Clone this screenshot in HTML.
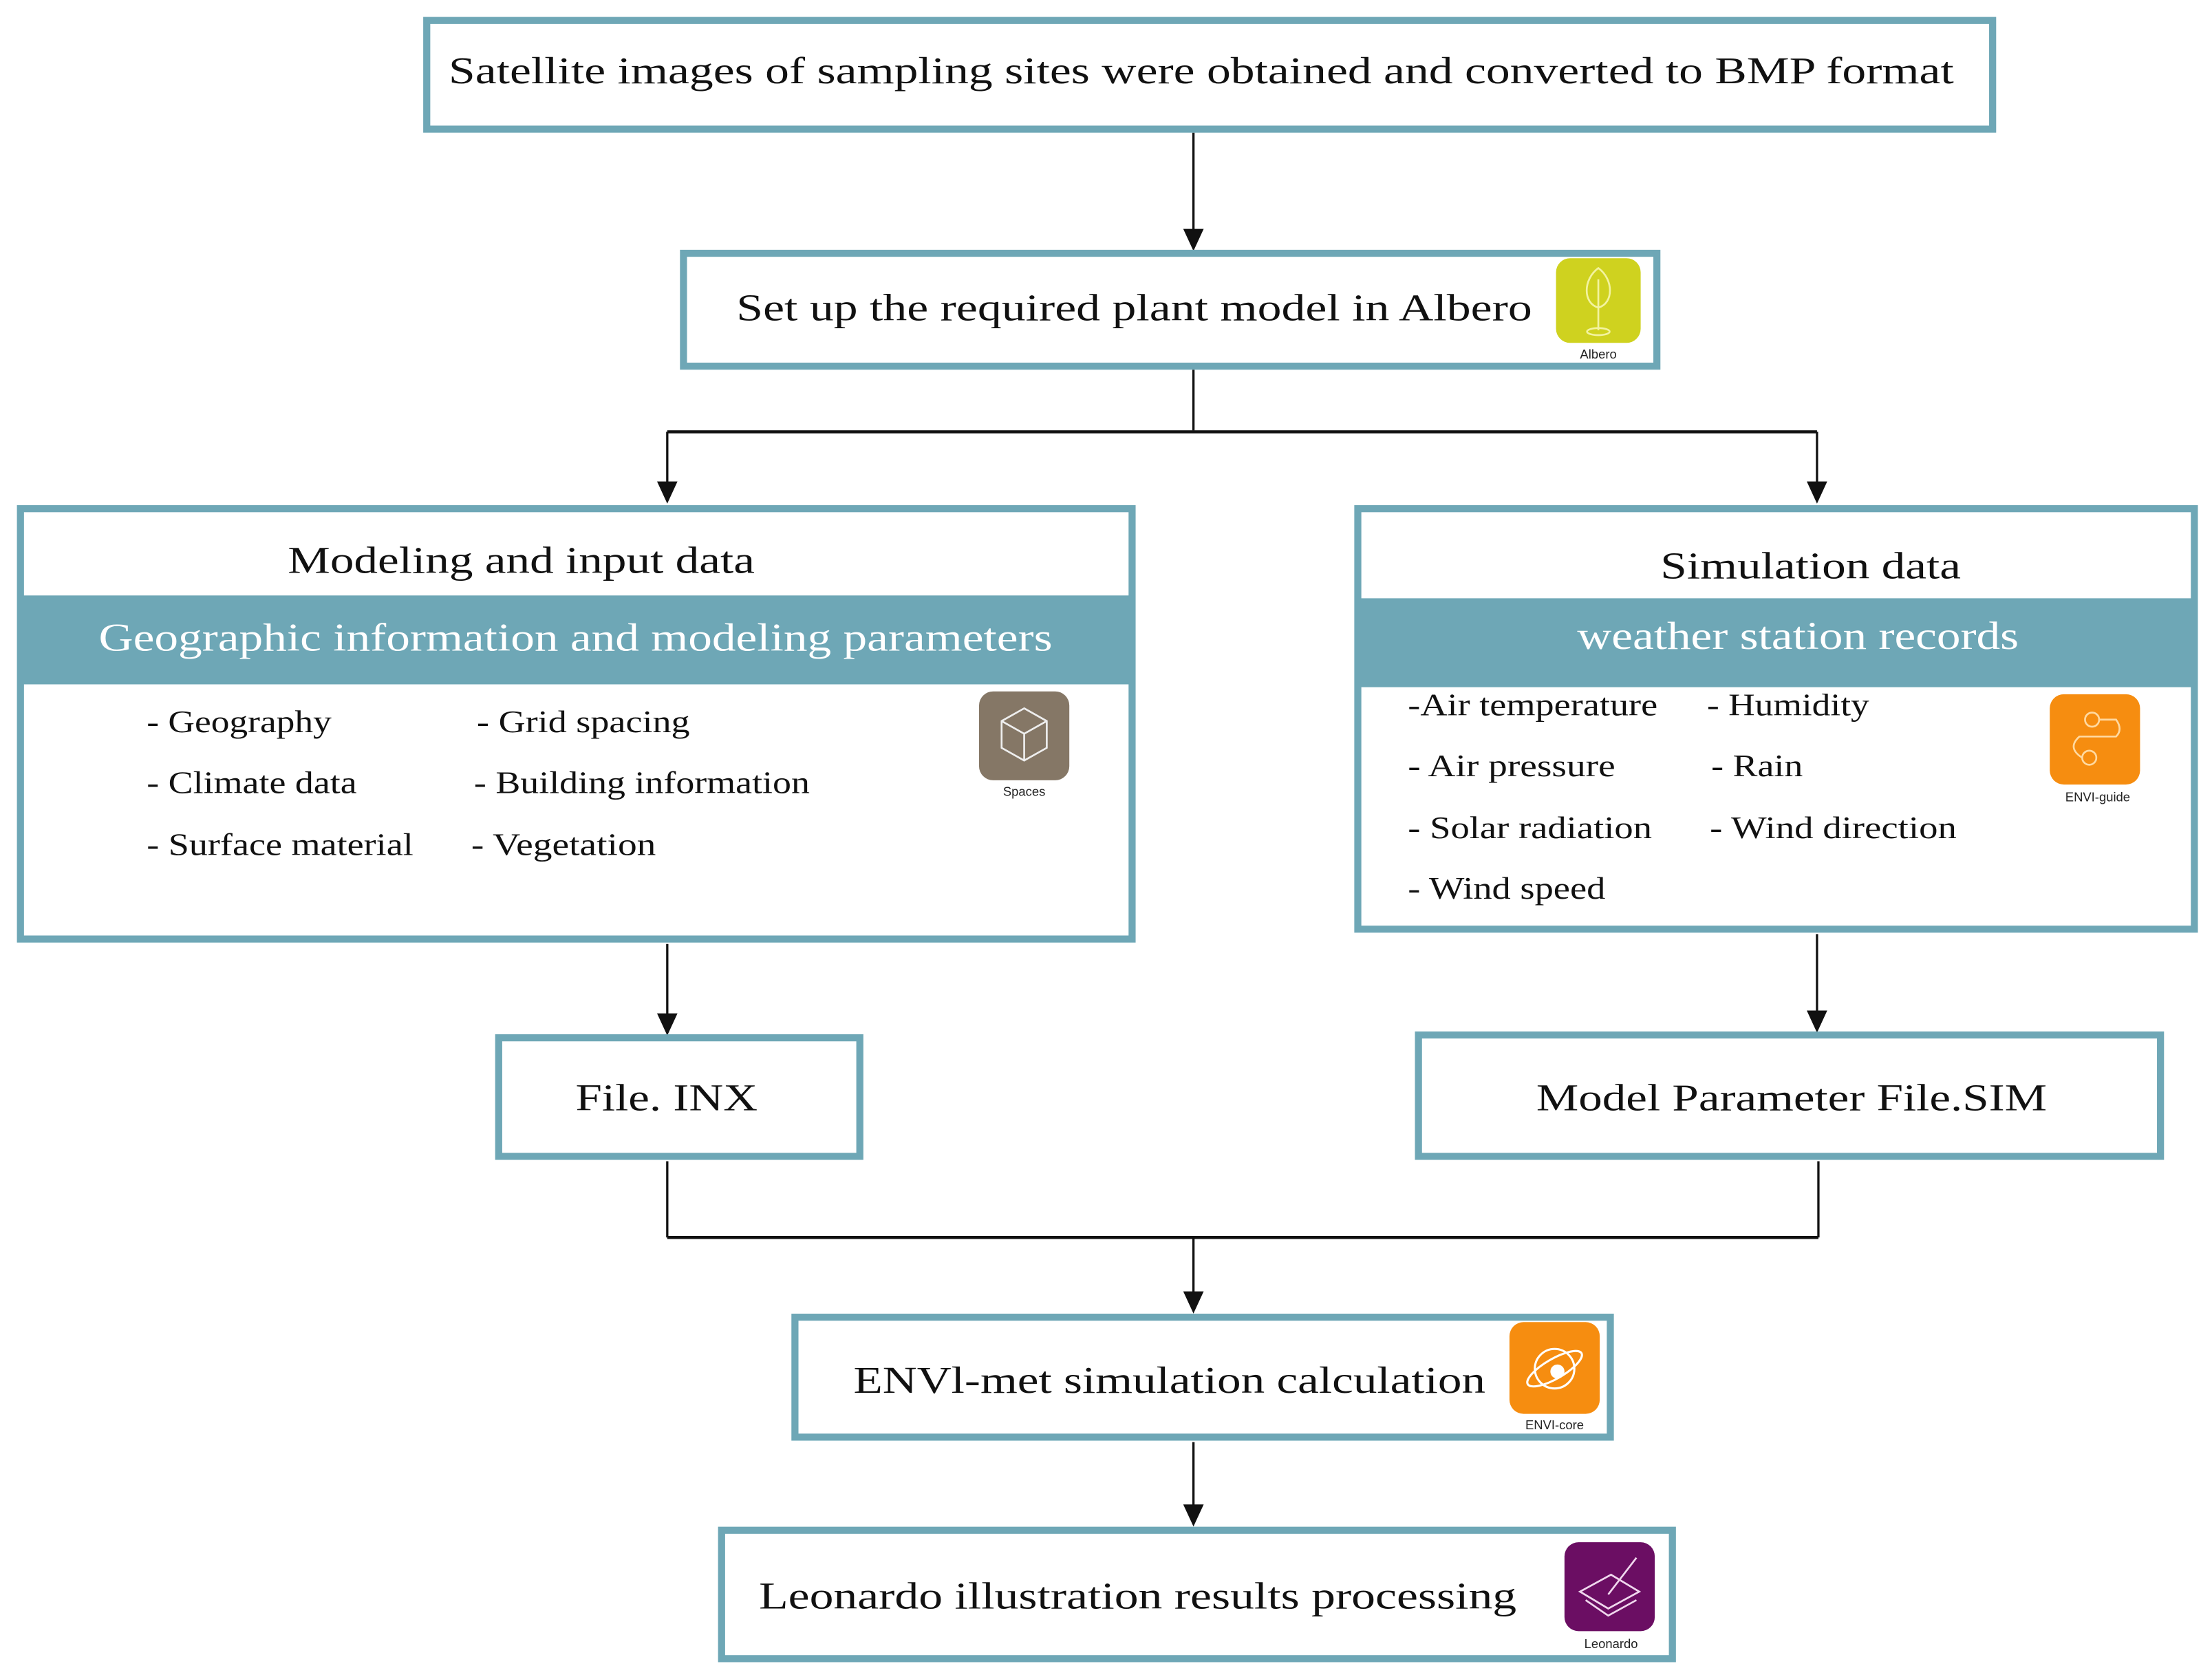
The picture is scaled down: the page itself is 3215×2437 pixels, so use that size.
<!DOCTYPE html>
<html><head><meta charset="utf-8"><style>html,body{margin:0;padding:0;background:#fff}svg{display:block}</style></head>
<body>
<svg width="3215" height="2437" viewBox="0 0 1568 1188.5" preserveAspectRatio="none" xmlns="http://www.w3.org/2000/svg" font-family="'Liberation Serif', serif">
<defs>
<marker id="ar" markerWidth="10" markerHeight="12" refX="5" refY="12" orient="auto" markerUnits="userSpaceOnUse">
<path d="M0,0 L10,0 L5,12 Z" transform="rotate(-90 5 6)" fill="#111"/>
</marker>
</defs>
<g fill="none" stroke="#111" stroke-width="1.6">
<line x1="846" y1="94" x2="846" y2="163"/><path d="M840,163 L852,163 L846,176 Z" fill="#111"/>
<line x1="846" y1="262" x2="846" y2="305"/>
<line x1="473" y1="306" x2="1288" y2="306" stroke-width="2.2"/>
<line x1="473" y1="306" x2="473" y2="342"/><path d="M467,342 L479,342 L473,355 Z" fill="#111"/>
<line x1="1288" y1="306" x2="1288" y2="342"/><path d="M1282,342 L1294,342 L1288,355 Z" fill="#111"/>
<line x1="473" y1="669" x2="473" y2="719"/><path d="M467,719 L479,719 L473,732 Z" fill="#111"/>
<line x1="1288" y1="662" x2="1288" y2="717"/><path d="M1282,717 L1294,717 L1288,730 Z" fill="#111"/>
<line x1="473" y1="823" x2="473" y2="877"/><line x1="1289" y1="823" x2="1289" y2="877"/>
<line x1="473" y1="877" x2="1289" y2="877" stroke-width="2.2"/>
<line x1="846" y1="877" x2="846" y2="916"/><path d="M840,916 L852,916 L846,929 Z" fill="#111"/>
<line x1="846" y1="1022" x2="846" y2="1067"/><path d="M840,1067 L852,1067 L846,1080 Z" fill="#111"/>
</g>
<g fill="#fff" stroke="#6ea7b6" stroke-width="5">
<rect x="302.5" y="14.5" width="1110" height="77"/>
<rect x="484.5" y="179.5" width="690" height="80"/>
<rect x="14.5" y="360.5" width="788" height="305"/>
<rect x="962.5" y="360.5" width="593" height="298"/>
<rect x="353.5" y="735.5" width="256" height="84"/>
<rect x="1005.5" y="733.5" width="526" height="86"/>
<rect x="563.5" y="933.5" width="578" height="85"/>
<rect x="511.5" y="1084.5" width="674" height="91"/>
</g>
<rect x="14" y="422" width="789" height="63" fill="#6ea7b6"/>
<rect x="962" y="424" width="594" height="63" fill="#6ea7b6"/>
<g fill="#111" font-size="27">
<text x="318" y="59" textLength="1067" lengthAdjust="spacingAndGlyphs">Satellite images of sampling sites were obtained and converted to BMP format</text>
<text x="522" y="227" textLength="564" lengthAdjust="spacingAndGlyphs">Set up the required plant model in Albero</text>
<text x="204" y="406" textLength="331" lengthAdjust="spacingAndGlyphs">Modeling and input data</text>
<text x="1177" y="410" textLength="213" lengthAdjust="spacingAndGlyphs">Simulation data</text>
<text x="408" y="787" textLength="129" lengthAdjust="spacingAndGlyphs">File. INX</text>
<text x="1089" y="787" textLength="362" lengthAdjust="spacingAndGlyphs">Model Parameter File.SIM</text>
<text x="605" y="987" textLength="448" lengthAdjust="spacingAndGlyphs">ENVl-met simulation calculation</text>
<text x="538" y="1140" textLength="537" lengthAdjust="spacingAndGlyphs">Leonardo illustration results processing</text>
</g>
<g fill="#fff" font-size="28">
<text x="70" y="461" textLength="676" lengthAdjust="spacingAndGlyphs">Geographic information and modeling parameters</text>
<text x="1118" y="460" textLength="313" lengthAdjust="spacingAndGlyphs">weather station records</text>
</g>
<g fill="#111" font-size="22">
<text x="104" y="519" textLength="131" lengthAdjust="spacingAndGlyphs">- Geography</text>
<text x="104" y="562" textLength="149" lengthAdjust="spacingAndGlyphs">- Climate data</text>
<text x="104" y="606" textLength="189" lengthAdjust="spacingAndGlyphs">- Surface material</text>
<text x="338" y="519" textLength="151" lengthAdjust="spacingAndGlyphs">- Grid spacing</text>
<text x="336" y="562" textLength="238" lengthAdjust="spacingAndGlyphs">- Building information</text>
<text x="334" y="606" textLength="131" lengthAdjust="spacingAndGlyphs">- Vegetation</text>
<text x="998" y="507" textLength="177" lengthAdjust="spacingAndGlyphs">-Air temperature</text>
<text x="998" y="550" textLength="147" lengthAdjust="spacingAndGlyphs">- Air pressure</text>
<text x="998" y="594" textLength="173" lengthAdjust="spacingAndGlyphs">- Solar radiation</text>
<text x="998" y="637" textLength="140" lengthAdjust="spacingAndGlyphs">- Wind speed</text>
<text x="1210" y="507" textLength="115" lengthAdjust="spacingAndGlyphs">- Humidity</text>
<text x="1213" y="550" textLength="65" lengthAdjust="spacingAndGlyphs">- Rain</text>
<text x="1212" y="594" textLength="175" lengthAdjust="spacingAndGlyphs">- Wind direction</text>
</g>
<!-- icons -->
<rect x="1103" y="183" width="60" height="60" rx="10" fill="#cfd21f"/>
<g fill="none" stroke="#f3f3a0" stroke-width="1.3">
<path d="M1133,190 C1122,198 1122,215 1133,218 C1144,215 1144,198 1133,190 Z"/><line x1="1133" y1="198" x2="1133" y2="234"/><ellipse cx="1133" cy="235" rx="8" ry="2.5"/>
</g>
<text x="1133" y="254" font-family="'Liberation Sans',sans-serif" font-size="9" text-anchor="middle" fill="#222">Albero</text>
<rect x="694" y="490" width="64" height="63" rx="10" fill="#857766"/>
<g fill="none" stroke="#eee" stroke-width="1.3"><path d="M726,502 L742,511 L742,530 L726,539 L710,530 L710,511 Z M710,511 L726,520 L742,511 M726,520 L726,539"/></g>
<text x="726" y="564" font-family="'Liberation Sans',sans-serif" font-size="9" text-anchor="middle" fill="#222">Spaces</text>
<rect x="1453" y="492" width="64" height="64" rx="10" fill="#f68d10"/>
<g fill="none" stroke="#ffd9a0" stroke-width="1.3"><circle cx="1483" cy="510" r="5"/><circle cx="1481" cy="537" r="5"/><path d="M1488,510 L1500,510 Q1505,517 1500,522 L1474,522 Q1465,530 1476,537"/></g>
<text x="1487" y="568" font-family="'Liberation Sans',sans-serif" font-size="9" text-anchor="middle" fill="#222">ENVI-guide</text>
<rect x="1070" y="937" width="64" height="65" rx="10" fill="#f68d10"/>
<g fill="none" stroke="#fff" stroke-width="1.5"><circle cx="1102" cy="970" r="14"/><ellipse cx="1102" cy="970" rx="22" ry="7" transform="rotate(-30 1102 970)"/></g><circle cx="1104" cy="972" r="5" fill="#fff"/>
<text x="1102" y="1013" font-family="'Liberation Sans',sans-serif" font-size="9" text-anchor="middle" fill="#222">ENVI-core</text>
<rect x="1109" y="1093" width="64" height="63" rx="10" fill="#6b0e63"/>
<g fill="none" stroke="#f0d8ee" stroke-width="1.3"><path d="M1120,1128 L1140,1140 L1162,1128 L1142,1116 Z M1124,1134 L1140,1145 L1160,1134 M1140,1130 L1160,1104"/></g>
<text x="1142" y="1168" font-family="'Liberation Sans',sans-serif" font-size="9" text-anchor="middle" fill="#222">Leonardo</text>
</svg>
</body></html>
